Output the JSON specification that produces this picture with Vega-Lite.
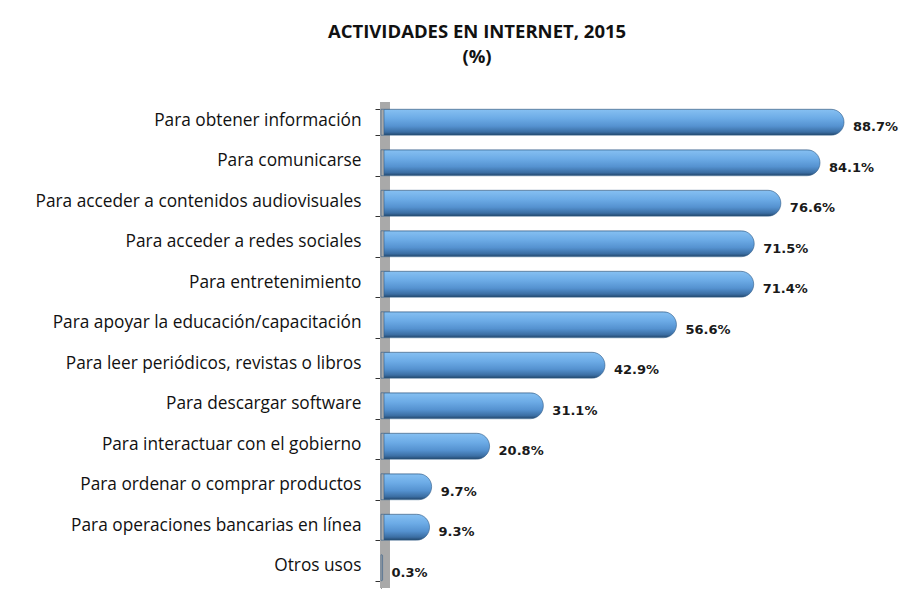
{
  "$schema": "https://vega.github.io/schema/vega-lite/v6.json",
  "width": 522,
  "height": 486,
  "padding": {"left": 35, "top": 23, "right": 10, "bottom": 4},
  "background": "white",
  "title": {
    "text": "ACTIVIDADES EN INTERNET, 2015",
    "subtitle": "(%)",
    "anchor": "middle",
    "frame": "bounds",
    "dx": 8,
    "font": "Open Sans",
    "fontSize": 18.5,
    "fontWeight": "bold",
    "color": "#111111",
    "subtitleFont": "Open Sans",
    "subtitleFontSize": 18.5,
    "subtitleFontWeight": "bold",
    "subtitleColor": "#111111",
    "subtitlePadding": 6,
    "offset": 27
  },
  "data": {
    "values": [
      {"actividad": "Para obtener información", "pct": 88.7},
      {"actividad": "Para comunicarse", "pct": 84.1},
      {"actividad": "Para acceder a contenidos audiovisuales", "pct": 76.6},
      {"actividad": "Para acceder a redes sociales", "pct": 71.5},
      {"actividad": "Para entretenimiento", "pct": 71.4},
      {"actividad": "Para apoyar la educación/capacitación", "pct": 56.6},
      {"actividad": "Para leer periódicos, revistas o libros", "pct": 42.9},
      {"actividad": "Para descargar software", "pct": 31.1},
      {"actividad": "Para interactuar con el gobierno", "pct": 20.8},
      {"actividad": "Para ordenar o comprar productos", "pct": 9.7},
      {"actividad": "Para operaciones bancarias en línea", "pct": 9.3},
      {"actividad": "Otros usos", "pct": 0.3}
    ]
  },
  "layer": [
    {
      "mark": {"type": "rule", "color": "#a9a9a9", "strokeWidth": 9, "xOffset": 4},
      "encoding": {"x": {"datum": 0, "type": "quantitative", "scale": {"domain": [0, 100]}, "axis": null}}
    },
    {
      "mark": {
        "type": "bar",
        "cornerRadiusEnd": 13,
        "xOffset": 3,
        "stroke": "#2f5a86",
        "strokeWidth": 0.6,
        "color": {
          "gradient": "linear",
          "x1": 0, "y1": 0, "x2": 0, "y2": 1,
          "stops": [
            {"offset": 0, "color": "#86c0f2"},
            {"offset": 0.35, "color": "#6cabe6"},
            {"offset": 0.65, "color": "#5592d0"},
            {"offset": 0.88, "color": "#3b6ea3"},
            {"offset": 1, "color": "#22466b"}
          ]
        }
      },
      "encoding": {
        "y": {
          "field": "actividad",
          "type": "nominal",
          "sort": null,
          "scale": {"paddingInner": 0.36, "paddingOuter": 0.18},
          "axis": {
            "title": null,
            "labelFont": "Open Sans",
            "labelFontSize": 17.3,
            "labelColor": "#111111",
            "labelPadding": 14,
            "labelLimit": 400,
            "labelOffset": -2,
            "tickBand": "extent",
            "tickColor": "#333333",
            "tickSize": 6,
            "domainColor": "#333333",
            "domainWidth": 1
          }
        },
        "x": {"field": "pct", "type": "quantitative", "scale": {"domain": [0, 100]}, "axis": null}
      }
    },
    {
      "transform": [{"calculate": "format(datum.pct, '.1f') + '%'", "as": "etiqueta"}],
      "mark": {
        "type": "text",
        "align": "left",
        "baseline": "middle",
        "dx": 9,
        "dy": 5,
        "font": "DejaVu Sans",
        "fontSize": 13,
        "fontWeight": "bold",
        "color": "#1a1a1a"
      },
      "encoding": {
        "y": {"field": "actividad", "type": "nominal", "sort": null},
        "x": {"field": "pct", "type": "quantitative"},
        "text": {"field": "etiqueta", "type": "nominal"}
      }
    }
  ],
  "config": {"view": {"stroke": null}}
}
